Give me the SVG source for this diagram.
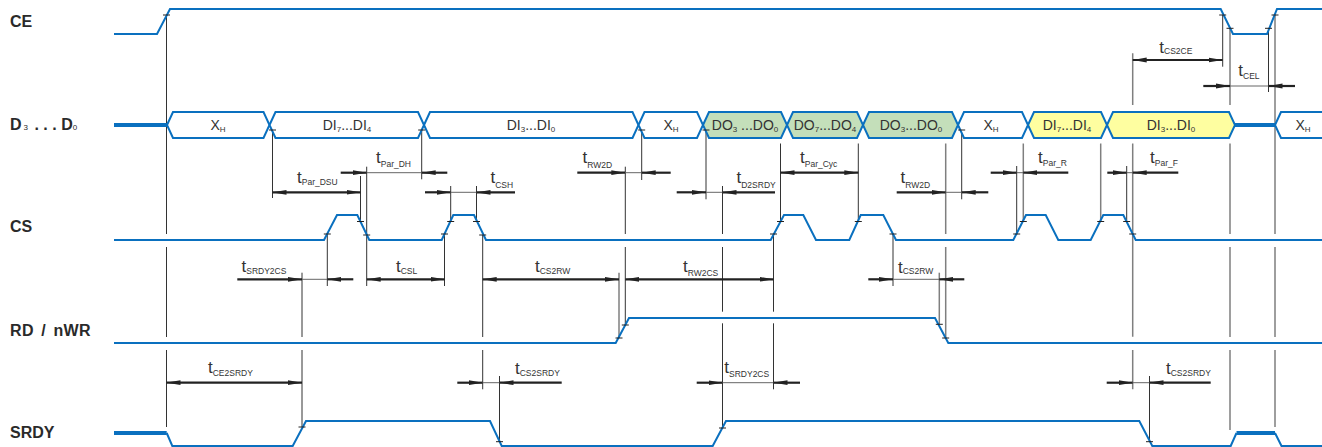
<svg xmlns="http://www.w3.org/2000/svg" width="1322" height="447" viewBox="0 0 1322 447">
<defs>
<marker id="ah" viewBox="0 0 14 6" refX="14" refY="3" markerWidth="14" markerHeight="6" markerUnits="userSpaceOnUse" orient="auto-start-reverse">
<path d="M0,0.6 L14,3 L0,5.4 z" fill="#222"/>
</marker>
</defs>
<style>
.sig{fill:none;stroke:#0a70bf;stroke-width:2}
.thk{fill:none;stroke:#0a70bf;stroke-width:4}
.bus{stroke:#0a70bf;stroke-width:2}
.w{fill:#fff}.g{fill:#c4dfba}.y{fill:#fefea0}
.lbl{font-family:"Liberation Sans",Arial,sans-serif;font-weight:bold;font-size:16px;fill:#2a2a2a}
.ls{font-size:8px;font-weight:normal}
.bt{font-family:"Liberation Sans",Arial,sans-serif;font-size:14px;fill:#333;text-anchor:middle}
.bs{font-size:8px}
.tt{font-family:"Liberation Sans",Arial,sans-serif;font-size:17px;fill:#333}
.s{font-size:8.5px}
.r{stroke:#333;stroke-width:1;fill:none}
.rg{stroke:#7f7f7f;stroke-width:1.5;fill:none}
.d{stroke:#222;stroke-width:2.2;fill:none;marker-end:url(#ah)}
.dd{stroke:#222;stroke-width:2.2;fill:none;marker-start:url(#ah);marker-end:url(#ah)}
.tn{stroke:#666;stroke-width:1;fill:none}
.p{stroke:#222;stroke-width:1;fill:none}
</style>

<g id="labels">
<text class="lbl" x="10" y="26.5">CE</text>
<text class="lbl" x="10" y="130">D<tspan class="ls" dx="2">3</tspan><tspan dx="2"> . . . </tspan>D<tspan class="ls">0</tspan></text>
<text class="lbl" x="10" y="232">CS</text>
<text class="lbl" x="10" y="335.5" word-spacing="2.5" letter-spacing="0.4">RD / nWR</text>
<text class="lbl" x="10" y="438">SRDY</text>
</g>

<g id="ref-lines">
<path class="r" d="M166.5,15V234M166.5,247V337M166.5,350V427"/>
<path class="r" d="M272.5,130V198"/>
<path class="r" d="M302,272.7V337M302,350V427"/>
<path class="r" d="M327.3,234V286"/>
<path class="r" d="M360.5,176V221.5"/>
<path class="r" d="M366.7,166.7V286"/>
<path class="r" d="M421.7,130V179.3"/>
<path class="r" d="M444.5,234V286"/>
<path class="r" d="M450.7,186V221.5"/>
<path class="r" d="M476.5,186V221.5"/>
<path class="r" d="M482.7,235V337M482.7,350V389.3"/>
<path class="r" d="M499.5,376V441.7"/>
<path class="rg" d="M619,272.7V338"/>
<path class="r" d="M625.3,166.7V234M625.3,247V325"/>
<path class="r" d="M641.7,130V180"/>
<path class="r" d="M706,130V199.3"/>
<path class="r" d="M722.5,186V234M722.5,247V311.7M722.5,323.3V428"/>
<path class="r" d="M773.5,234V311.7M773.5,323.3V389.3"/>
<path class="r" d="M780.5,143.5V221.5"/>
<path class="r" d="M858.3,143.5V221.5"/>
<path class="r" d="M893,234V286"/>
<path class="rg" d="M939.3,272.7V324.3"/>
<path class="rg" d="M945.7,143.5V234M945.7,247V338"/>
<path class="r" d="M961.7,130V199.3"/>
<path class="r" d="M1016.7,166V234.3"/>
<path class="rg" d="M1023.3,143.5V221.5"/>
<path class="rg" d="M1100.7,143.5V221.5"/>
<path class="r" d="M1126.7,166V221.5"/>
<path class="rg" d="M1132.7,53.3V105M1132.7,143.5V336.7M1132.7,350V389.3"/>
<path class="r" d="M1149.5,376V441.7"/>
<path class="r" d="M1222.7,15V66.7"/>
<path class="rg" d="M1230,28.3V105M1230,143.5V234M1230,247V337M1230,350V430"/>
<path class="r" d="M1268.5,28.3V92"/>
<path class="rg" d="M1275,15V234M1275,247V337M1275,350V427"/>
</g>

<g id="sig-CE">
<path class="sig" d="M114,34H157L170,9H1220.7L1233,34H1267L1277,9H1322"/>
</g>

<g id="sig-D">
<path class="thk" d="M114,125H167M1235,125H1275"/>
<polygon class="bus w" points="167,125 173,112 263.5,112 269.5,125 263.5,138 173,138"/>
<polygon class="bus w" points="269.5,125 275.5,112 418,112 424,125 418,138 275.5,138"/>
<polygon class="bus w" points="424,125 430,112 632.5,112 638.5,125 632.5,138 430,138"/>
<polygon class="bus w" points="638.5,125 644.5,112 697,112 703,125 697,138 644.5,138"/>
<polygon class="bus g" points="703,125 709,112 781,112 787,125 781,138 709,138"/>
<polygon class="bus g" points="787,125 793,112 857,112 863,125 857,138 793,138"/>
<polygon class="bus g" points="863,125 869,112 952,112 958,125 952,138 869,138"/>
<polygon class="bus w" points="958,125 964,112 1022,112 1028,125 1022,138 964,138"/>
<polygon class="bus y" points="1028,125 1034,112 1101,112 1107,125 1101,138 1034,138"/>
<polygon class="bus y" points="1107,125 1113,112 1229,112 1235,125 1229,138 1113,138"/>
<polygon class="bus w" points="1275,125 1281,112 1330,112 1330,138 1281,138"/>
<text class="bt" x="218" y="130">X<tspan class="bs" dy="1.5">H</tspan></text>
<text class="bt" x="347" y="130">DI<tspan class="bs" dy="2">7</tspan><tspan dy="-2">...DI</tspan><tspan class="bs" dy="2">4</tspan></text>
<text class="bt" x="531" y="130">DI<tspan class="bs" dy="2">3</tspan><tspan dy="-2">...DI</tspan><tspan class="bs" dy="2">0</tspan></text>
<text class="bt" x="671" y="130">X<tspan class="bs" dy="1.5">H</tspan></text>
<text class="bt" x="745" y="130">DO<tspan class="bs" dy="2">3</tspan><tspan dy="-2"> ...DO</tspan><tspan class="bs" dy="2">0</tspan></text>
<text class="bt" x="825" y="130">DO<tspan class="bs" dy="2">7</tspan><tspan dy="-2">...DO</tspan><tspan class="bs" dy="2">4</tspan></text>
<text class="bt" x="911" y="130">DO<tspan class="bs" dy="2">3</tspan><tspan dy="-2">...DO</tspan><tspan class="bs" dy="2">0</tspan></text>
<text class="bt" x="991" y="130">X<tspan class="bs" dy="1.5">H</tspan></text>
<text class="bt" x="1067" y="130">DI<tspan class="bs" dy="2">7</tspan><tspan dy="-2">...DI</tspan><tspan class="bs" dy="2">4</tspan></text>
<text class="bt" x="1171" y="130">DI<tspan class="bs" dy="2">3</tspan><tspan dy="-2">...DI</tspan><tspan class="bs" dy="2">0</tspan></text>
<text class="bt" x="1303" y="130">X<tspan class="bs" dy="1.5">H</tspan></text>
</g>

<g id="sig-CS">
<path class="sig" d="M114,240H324L337,215H357.3L369.3,240H441.7L453.3,215H474L486,240H770.7L784,215H803.3L816,240H849.3L860.7,215H883.3L896,240H1013.3L1026,215H1045.7L1058.3,240H1090.7L1103.3,215H1123.3L1135.7,240H1322"/>
</g>

<g id="sig-RD">
<path class="sig" d="M114,343H615.7L629,318H935L948.3,343H1322"/>
</g>

<g id="sig-SRDY">
<path class="thk" d="M114,433H166.7M1236.5,433H1275"/>
<path class="sig" d="M166.7,433L172.3,446H292.7L306,421H490L501.7,446H712.7L726,421H1139.3L1152.3,446H1230.7L1236.5,433"/>
<path class="sig" d="M1275,433L1281.5,446H1322"/>
</g>

<g id="ticks">
<path class="p" d="M163,15h7M1219.2,15h7M1226.5,28.3h7M1265,28.3h7M1271.5,15h7
M269,130h7M418.2,130h7M638.2,130h7M702.5,130h7M958.2,130h7
M323.8,234h7M357,221.5h7M363.2,235h7M441,234h7M447.2,221.5h7M473,221.5h7M479.2,235h7M770,234h7M777,221.5h7M854.8,221.5h7M889.5,234h7M1013.2,234h7M1019.8,221.5h7M1097.2,221.5h7M1123.2,221.5h7M1129.2,234h7
M615.5,338h7M621.8,325h7M935.8,324.3h7M942.2,338h7
M298.5,427h7M496,441.7h7M719,428h7M1146,441.7h7"/>
</g>

<g id="connectors">
<path class="dd" d="M272.5,192.3H360.5"/>
<path class="dd" d="M366.7,279.3H444.5"/>
<path class="dd" d="M482.7,279.3H619"/>
<path class="dd" d="M625.3,279.3H773.5"/>
<path class="dd" d="M780.5,172.7H858.3"/>
<path class="dd" d="M166.5,382.7H302"/>
<path class="dd" d="M1132.7,60H1222.7"/>
<path class="d" d="M340.7,172.7H366.7"/><path class="tn" d="M366.7,172.7H421.7"/><path class="d" d="M447.3,172.7H421.7"/>
<path class="d" d="M237.3,279.3H302"/><path class="tn" d="M302,279.3H327.3"/><path class="d" d="M353.3,279.3H327.3"/>
<path class="d" d="M425,192.3H450.7"/><path class="tn" d="M450.7,192.3H476.5"/><path class="d" d="M515,192.3H476.5"/>
<path class="d" d="M577.3,172.7H625.3"/><path class="tn" d="M625.3,172.7H641.7"/><path class="d" d="M670.7,172.7H641.7"/>
<path class="d" d="M676.7,192.3H706"/><path class="tn" d="M706,192.3H722.5"/><path class="d" d="M775,192.3H722.5"/>
<path class="d" d="M868.3,279.3H893"/><path class="tn" d="M893,279.3H939.3"/><path class="d" d="M964.3,279.3H939.3"/>
<path class="d" d="M896.7,192.3H945.7"/><path class="tn" d="M945.7,192.3H961.7"/><path class="d" d="M988.3,192.3H961.7"/>
<path class="d" d="M990.7,172.7H1016.7"/><path class="tn" d="M1016.7,172.7H1023.3"/><path class="d" d="M1068.3,172.7H1023.3"/>
<path class="d" d="M1107.3,172.7H1126.7"/><path class="tn" d="M1126.7,172.7H1132.7"/><path class="d" d="M1178.3,172.7H1132.7"/>
<path class="d" d="M457.3,382.7H482.7"/><path class="tn" d="M482.7,382.7H499.5"/><path class="d" d="M561.7,382.7H499.5"/>
<path class="d" d="M696.7,382.7H722.5"/><path class="tn" d="M722.5,382.7H773.5"/><path class="d" d="M800,382.7H773.5"/>
<path class="d" d="M1106.7,382.7H1132.7"/><path class="tn" d="M1132.7,382.7H1149.5"/><path class="d" d="M1210.7,382.7H1149.5"/>
<path class="d" d="M1203.3,86H1230"/><path class="tn" d="M1230,86H1268.5"/><path class="d" d="M1295,86H1268.5"/>
</g>

<g id="timing-labels">
<text class="tt" x="297" y="182.7">t<tspan class="s" dy="2">Par_DSU</tspan></text>
<text class="tt" x="376" y="163.3">t<tspan class="s" dy="4">Par_DH</tspan></text>
<text class="tt" x="490.5" y="182.7">t<tspan class="s" dy="5">CSH</tspan></text>
<text class="tt" x="241.5" y="271.7">t<tspan class="s" dy="2">SRDY2CS</tspan></text>
<text class="tt" x="396" y="271.7">t<tspan class="s" dy="2">CSL</tspan></text>
<text class="tt" x="535" y="271.7">t<tspan class="s" dy="2">CS2RW</tspan></text>
<text class="tt" x="582.5" y="162.7">t<tspan class="s" dy="5">RW2D</tspan></text>
<text class="tt" x="683" y="271.7">t<tspan class="s" dy="4">RW2CS</tspan></text>
<text class="tt" x="736.5" y="182.7">t<tspan class="s" dy="5">D2SRDY</tspan></text>
<text class="tt" x="800" y="162.7">t<tspan class="s" dy="4.5">Par_Cyc</tspan></text>
<text class="tt" x="900.5" y="182.7">t<tspan class="s" dy="5">RW2D</tspan></text>
<text class="tt" x="898" y="272.5">t<tspan class="s" dy="1">CS2RW</tspan></text>
<text class="tt" x="1038" y="162.7">t<tspan class="s" dy="3.5">Par_R</tspan></text>
<text class="tt" x="1150" y="162.7">t<tspan class="s" dy="3.5">Par_F</tspan></text>
<text class="tt" x="208" y="373.3">t<tspan class="s" dy="2.7">CE2SRDY</tspan></text>
<text class="tt" x="515" y="374">t<tspan class="s" dy="2">CS2SRDY</tspan></text>
<text class="tt" x="724.3" y="373.3">t<tspan class="s" dy="3.3">SRDY2CS</tspan></text>
<text class="tt" x="1166" y="374">t<tspan class="s" dy="2">CS2SRDY</tspan></text>
<text class="tt" x="1159.3" y="52.7">t<tspan class="s" dy="1">CS2CE</tspan></text>
<text class="tt" x="1238.3" y="76">t<tspan class="s" dy="3">CEL</tspan></text>
</g>
</svg>
